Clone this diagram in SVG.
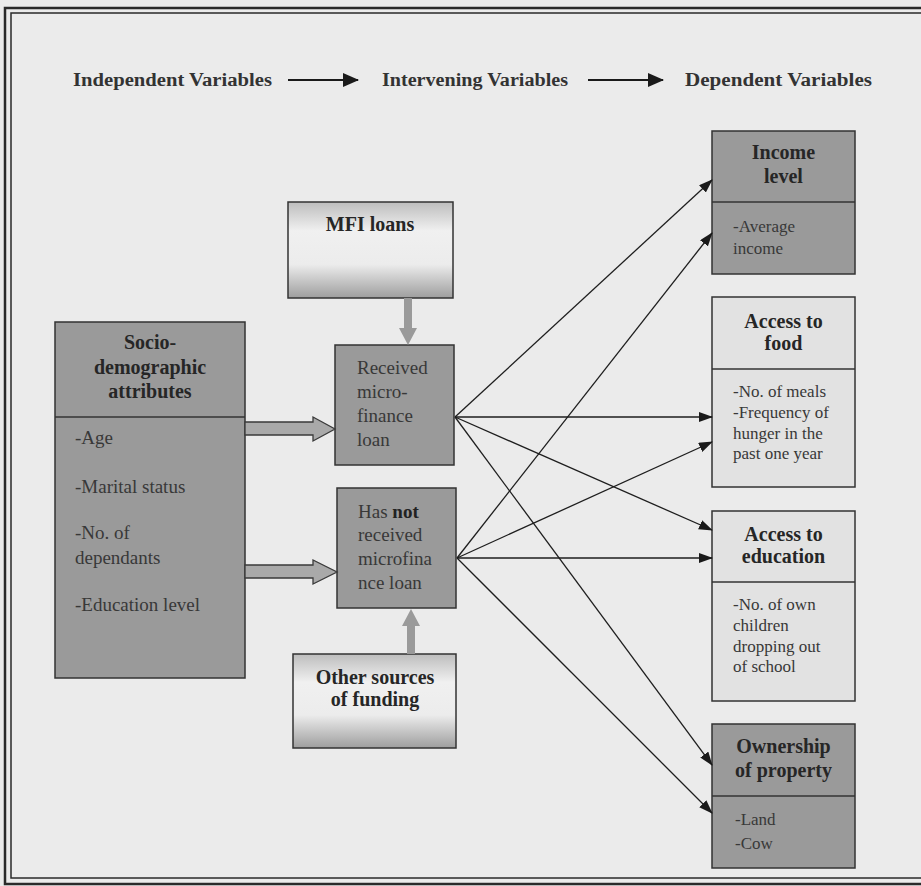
<svg xmlns="http://www.w3.org/2000/svg" width="921" height="886" viewBox="0 0 921 886">
<defs>
<linearGradient id="gBox" x1="0" y1="0" x2="0" y2="1">
<stop offset="0" stop-color="#bdbdbd"/>
<stop offset="0.3" stop-color="#f0f0f0"/>
<stop offset="0.65" stop-color="#ececec"/>
<stop offset="1" stop-color="#9e9e9e"/>
</linearGradient>
<marker id="ah" markerUnits="userSpaceOnUse" markerWidth="14" markerHeight="10" refX="13" refY="5" orient="auto">
<path d="M0,0 L14,5 L0,10 Z" fill="#1a1a1a"/>
</marker>
<marker id="ahb" markerUnits="userSpaceOnUse" markerWidth="16" markerHeight="14" refX="15" refY="7" orient="auto">
<path d="M0,0 L16,7 L0,14 Z" fill="#1a1a1a"/>
</marker>
<style>
.frame{fill:none;stroke:#2a2a2a}
.dark{fill:#9a9a9a;stroke:#333;stroke-width:1.5}
.light{fill:#e2e2e2;stroke:#333;stroke-width:1.5}
.grad{fill:url(#gBox);stroke:#333;stroke-width:1.5}
.div{stroke:#333;stroke-width:1.5}
.hd{font-family:"Liberation Serif",serif;font-weight:bold;font-size:20px;fill:#262626}
.tx{font-family:"Liberation Serif",serif;font-size:19px;fill:#383838}
.sm{font-family:"Liberation Serif",serif;font-size:17px;fill:#383838}
.ttl{font-family:"Liberation Serif",serif;font-weight:bold;font-size:18px;fill:#333}
.c{text-anchor:middle}
.con{stroke:#1e1e1e;stroke-width:1.3;fill:none;marker-end:url(#ah)}
.hdr{stroke:#1a1a1a;stroke-width:2;marker-end:url(#ahb)}
.blk{fill:#a9a9a9;stroke:#3a3a3a;stroke-width:1.3}
.garr{fill:#9a9a9a}
</style>
</defs>
<rect x="0" y="0" width="921" height="886" fill="#ebebeb"/>
<rect class="frame" x="5" y="8" width="940" height="876" stroke-width="2.5"/>
<rect class="frame" x="11" y="13" width="930" height="865" stroke-width="1.5"/>

<g id="header">
<text class="ttl" x="73" y="86" textLength="199" lengthAdjust="spacingAndGlyphs">Independent Variables</text>
<line class="hdr" x1="288" y1="80" x2="358" y2="80"/>
<text class="ttl" x="382" y="86" textLength="186" lengthAdjust="spacingAndGlyphs">Intervening Variables</text>
<line class="hdr" x1="588" y1="80" x2="663" y2="80"/>
<text class="ttl" x="685" y="86" textLength="187" lengthAdjust="spacingAndGlyphs">Dependent Variables</text>
</g>

<g id="socio">
<rect class="dark" x="55" y="322" width="190" height="356" fill="#a0a0a0"/>
<line class="div" x1="55" y1="417" x2="245" y2="417"/>
<text class="hd c" x="150" y="349">Socio-</text>
<text class="hd c" x="150" y="374">demographic</text>
<text class="hd c" x="150" y="398">attributes</text>
<text class="tx" x="75" y="444" font-size="20">-Age</text>
<text class="tx" x="75" y="493" font-size="20">-Marital status</text>
<text class="tx" x="75" y="539" font-size="20">-No. of</text>
<text class="tx" x="75" y="564" font-size="20">dependants</text>
<text class="tx" x="75" y="611" font-size="20">-Education level</text>
</g>

<g id="mfi">
<rect class="grad" x="288" y="202" width="165" height="96"/>
<text class="hd c" x="370" y="231">MFI loans</text>
</g>

<g id="received">
<rect class="dark" x="335" y="345" width="119" height="120"/>
<text class="tx" x="357" y="374">Received</text>
<text class="tx" x="357" y="398">micro-</text>
<text class="tx" x="357" y="422">finance</text>
<text class="tx" x="357" y="446">loan</text>
</g>

<g id="notreceived">
<rect class="dark" x="337" y="488" width="119" height="120"/>
<text class="tx" x="358" y="518">Has <tspan font-weight="bold" fill="#222">not</tspan></text>
<text class="tx" x="358" y="541">received</text>
<text class="tx" x="358" y="565">microfina</text>
<text class="tx" x="358" y="589">nce loan</text>
</g>

<g id="other">
<rect class="grad" x="293" y="654" width="163" height="94"/>
<text class="hd c" x="375" y="684">Other sources</text>
<text class="hd c" x="375" y="706">of funding</text>
</g>

<g id="income">
<rect class="dark" x="712" y="131" width="143" height="143"/>
<line class="div" x1="712" y1="202" x2="855" y2="202"/>
<text class="hd c" x="783.5" y="159">Income</text>
<text class="hd c" x="783.5" y="183">level</text>
<text class="sm" x="733" y="232">-Average</text>
<text class="sm" x="733" y="254">income</text>
</g>

<g id="food">
<rect class="light" x="712" y="297" width="143" height="190"/>
<line class="div" x1="712" y1="369" x2="855" y2="369"/>
<text class="hd c" x="783.5" y="328">Access to</text>
<text class="hd c" x="783.5" y="350">food</text>
<text class="sm" x="733" y="397">-No. of meals</text>
<text class="sm" x="733" y="418">-Frequency of</text>
<text class="sm" x="733" y="439">hunger in the</text>
<text class="sm" x="733" y="459">past one year</text>
</g>

<g id="education">
<rect class="light" x="712" y="511" width="143" height="190"/>
<line class="div" x1="712" y1="582" x2="855" y2="582"/>
<text class="hd c" x="783.5" y="541">Access to</text>
<text class="hd c" x="783.5" y="563">education</text>
<text class="sm" x="733" y="610">-No. of own</text>
<text class="sm" x="733" y="631">children</text>
<text class="sm" x="733" y="652">dropping out</text>
<text class="sm" x="733" y="672">of school</text>
</g>

<g id="ownership">
<rect class="dark" x="712" y="724" width="143" height="144"/>
<line class="div" x1="712" y1="796" x2="855" y2="796"/>
<text class="hd c" x="783.5" y="753">Ownership</text>
<text class="hd c" x="783.5" y="777">of property</text>
<text class="sm" x="735" y="825">-Land</text>
<text class="sm" x="735" y="849">-Cow</text>
</g>

<g id="connectors">
<polygon class="blk" points="245,422 313,422 313,417 335,429 313,441 313,435 245,435"/>
<polygon class="blk" points="245,565 313,565 313,560 337,572 313,584 313,578 245,578"/>
<polygon class="garr" points="404,298 412,298 412,328 417,328 408,345 399,328 404,328"/>
<polygon class="garr" points="407,654 415,654 415,626 420,626 411,609 402,626 407,626"/>
<line class="con" x1="455" y1="417" x2="712" y2="180"/>
<line class="con" x1="455" y1="417" x2="712" y2="417"/>
<line class="con" x1="455" y1="417" x2="712" y2="530"/>
<line class="con" x1="455" y1="417" x2="712" y2="765"/>
<line class="con" x1="457" y1="558" x2="712" y2="233"/>
<line class="con" x1="457" y1="558" x2="712" y2="442"/>
<line class="con" x1="457" y1="558" x2="712" y2="558"/>
<line class="con" x1="457" y1="558" x2="712" y2="813"/>
</g>
</svg>
